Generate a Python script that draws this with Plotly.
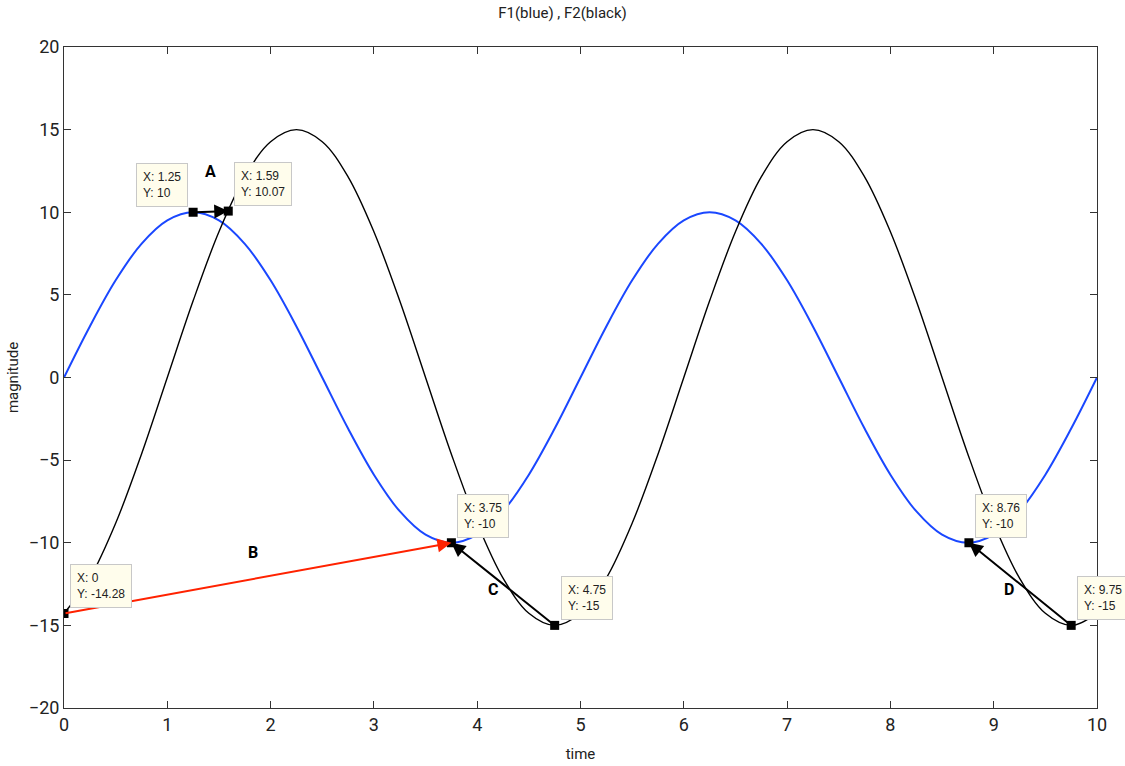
import plotly.graph_objects as go

# sample times (s)
t = [0, 0.25, 0.5, 0.75, 1, 1.25, 1.5, 1.75, 2, 2.25, 2.5, 2.75, 3, 3.25, 3.5, 3.75, 4, 4.25, 4.5, 4.75,
     5, 5.25, 5.5, 5.75, 6, 6.25, 6.5, 6.75, 7, 7.25, 7.5, 7.75, 8, 8.25, 8.5, 8.75, 9, 9.25, 9.5, 9.75, 10]

# F1 (blue)
f1 = [0, 3.09, 5.88, 8.09, 9.51, 10, 9.51, 8.09, 5.88, 3.09, 0, -3.09, -5.88, -8.09, -9.51, -10, -9.51,
      -8.09, -5.88, -3.09, 0, 3.09, 5.88, 8.09, 9.51, 10, 9.51, 8.09, 5.88, 3.09, 0, -3.09, -5.88, -8.09,
      -9.51, -10, -9.51, -8.09, -5.88, -3.09, 0]

# F2 (black)
f2 = [-14.28, -12.14, -8.82, -4.64, 0, 4.64, 8.82, 12.14, 14.27, 15, 14.27, 12.14, 8.82, 4.64, 0, -4.64,
      -8.82, -12.14, -14.27, -15, -14.27, -12.14, -8.82, -4.64, 0, 4.64, 8.82, 12.14, 14.27, 15, 14.27,
      12.14, 8.82, 4.64, 0, -4.64, -8.82, -12.14, -14.27, -15, -14.27]

# data cursor points
tip_x = [0, 1.25, 1.59, 3.75, 4.75, 8.76, 9.75]
tip_y = [-14.28, 10, 10.07, -10, -15, -10, -15]
# which side of the point each tip box sits on
tip_side = ["right", "left", "right", "right", "right", "right", "right"]

# arrows: (from index, to index, colour)
arrows = [(1, 2, "black"), (0, 3, "#ff2200"), (4, 3, "black"), (6, 5, "black")]

# letter labels
lab_text = ["A", "B", "C", "D"]
lab_x = [1.42, 1.83, 4.15, 9.15]
lab_y = [12.45, -10.6, -12.8, -12.8]

FONT = "Roboto, Liberation Sans, sans-serif"

fig = go.Figure()
fig.add_trace(go.Scatter(x=t, y=f1, mode="lines", line=dict(color="#1a47ff", width=2, shape="spline"),
                         hoverinfo="skip"))
fig.add_trace(go.Scatter(x=t, y=f2, mode="lines", line=dict(color="black", width=1.4, shape="spline"),
                         hoverinfo="skip"))

annotations = []
for i0, i1, col in arrows:
    annotations.append(dict(x=tip_x[i1], y=tip_y[i1], ax=tip_x[i0], ay=tip_y[i0], xref="x", yref="y",
                            axref="x", ayref="y", text="", showarrow=True, arrowhead=2, arrowsize=1.4,
                            arrowwidth=2, arrowcolor=col, standoff=0, startstandoff=0))

fig.add_trace(go.Scatter(x=tip_x, y=tip_y, mode="markers",
                         marker=dict(symbol="square", size=9, color="black"), hoverinfo="skip"))

for x, y, side in zip(tip_x, tip_y, tip_side):
    annotations.append(dict(x=x, y=y, xref="x", yref="y", showarrow=False,
                            text=f"X: {x:g}<br>Y: {y:g}", align="left",
                            xanchor="left" if side == "right" else "right", yanchor="bottom",
                            xshift=6 if side == "right" else -5, yshift=5,
                            bgcolor="#fffdec", bordercolor="#c8c8c8", borderwidth=1, borderpad=6,
                            font=dict(family="Arial, Liberation Sans, sans-serif", size=12, color="#222222")))

for s, x, y in zip(lab_text, lab_x, lab_y):
    annotations.append(dict(x=x, y=y, xref="x", yref="y", showarrow=False, text=f"<b>{s}</b>",
                            font=dict(family=FONT, size=16, color="black")))

axis_common = dict(showline=True, linecolor="#333333", linewidth=1, mirror="allticks", ticks="inside",
                   ticklen=7, tickcolor="#333333", showgrid=False, zeroline=False, automargin=False,
                   tickfont=dict(family=FONT, size=18, color="#222222"))

fig.update_layout(
    width=1125, height=766, margin=dict(l=64, r=28, t=47, b=58),
    paper_bgcolor="white", plot_bgcolor="white", showlegend=False,
    title=dict(text="F1(blue) , F2(black)", x=0.5, xanchor="center", y=0.99, yanchor="top",
               font=dict(family=FONT, size=15, color="#222222")),
    xaxis=dict(range=[0, 10], dtick=1, **axis_common,
               title=dict(text="time", font=dict(family=FONT, size=15, color="#222222"), standoff=14)),
    yaxis=dict(range=[-20, 20], dtick=5, **axis_common,
               title=dict(text="magnitude", font=dict(family=FONT, size=15, color="#222222"), standoff=6)),
    annotations=annotations,
)

fig.write_html("out.html")
